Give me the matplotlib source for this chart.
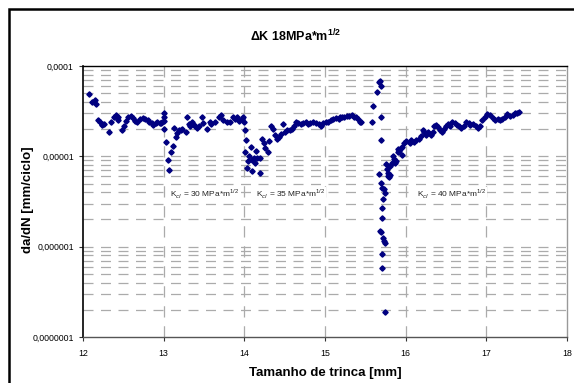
import matplotlib
matplotlib.use("Agg")
import matplotlib.pyplot as plt
import numpy as np
from matplotlib.patches import Rectangle

plt.rcParams['font.family'] = ['Liberation Sans', 'DejaVu Sans']
plt.rcParams['mathtext.fontset'] = 'custom'
plt.rcParams['mathtext.rm'] = 'Liberation Sans'
plt.rcParams['mathtext.bf'] = 'Liberation Sans:bold'

SCALE = 1e-5  # values below are da/dN in units of 1e-5 mm/ciclo

x1 = [12.08,12.11,12.15,12.16,12.19,12.21,12.23,12.24,12.26,12.32,12.35,12.38,12.41,12.43,12.44,12.48,12.51,12.53,12.56,12.59,
      12.62,12.64,12.67,12.71,12.74,12.77,12.80,12.82,12.85,12.87,12.90,12.92,12.95,12.97,12.98,13.00,13.00,13.00,13.00]
y1 = [4.9,4.0,4.24,3.8,2.54,2.4,2.3,2.22,2.3,1.84,2.43,2.75,2.86,2.7,2.54,1.94,2.15,2.46,2.72,2.82,
      2.63,2.46,2.41,2.6,2.68,2.6,2.5,2.42,2.33,2.22,2.33,2.37,2.33,2.33,2.43,3.0,2.75,2.45,2.0]

x2 = [13.03,13.05,13.07,13.09,13.11,13.13,13.15,13.17,13.19,13.21,13.23,13.28,13.29,13.31,13.33,13.35,13.37,13.39,13.41,13.44,
      13.47,13.49,13.54,13.57,13.59,13.64,13.68,13.71,13.74,13.78,13.82,13.86,13.88,13.91,13.94,13.97,13.98,14.00]
y2 = [1.43,0.9,0.71,1.13,1.31,2.06,1.64,1.82,1.97,1.94,2.0,1.88,2.72,2.3,2.18,2.37,2.22,2.15,2.06,2.18,
      2.72,2.33,2.0,2.37,2.26,2.43,2.75,2.9,2.54,2.37,2.43,2.72,2.6,2.75,2.46,2.6,2.75,2.43]

x3 = [14.01,14.02,14.01,14.03,14.05,14.06,14.08,14.09,14.10,14.12,14.13,14.14,14.16,14.19,14.20,14.22,14.24,14.26,14.29,14.31,
      14.33,14.35,14.38,14.41,14.43,14.46,14.48,14.50,14.53,14.56,14.59,14.62,14.64,14.67,14.70,14.73,14.76,14.79,14.82,14.85,
      14.89,14.92,14.95,14.98,15.01,15.04,15.07,15.10,15.14,15.17,15.19,15.21,15.24,15.27,15.30,15.33,15.36,15.38,15.41,15.44,15.45]
y3 = [1.97,1.5,1.13,0.74,0.88,1.0,1.27,0.68,0.92,0.97,0.84,1.16,0.95,0.66,0.95,1.56,1.41,1.24,1.13,1.46,
      2.15,2.0,1.74,1.56,1.64,1.78,2.28,1.88,1.97,1.94,2.0,2.15,2.37,2.33,2.3,2.33,2.37,2.3,2.33,2.37,
      2.33,2.26,2.18,2.33,2.37,2.43,2.54,2.6,2.65,2.6,2.72,2.75,2.7,2.77,2.82,2.86,2.75,2.7,2.6,2.42,2.37]

x4 = [15.58,15.59,15.65,15.67,15.68,15.69,15.69,15.69,15.67,15.70,15.71,15.73,15.74,15.72,15.71,15.71,15.68,15.69,15.72,15.73,
      15.75,15.71,15.71,15.74,15.76,15.77,15.78,15.79,15.80,15.78,15.80,15.83,15.84,15.85,15.87,15.88,15.90,15.91,15.92,15.94]
y4 = [2.42,3.6,5.1,6.7,6.9,5.95,2.75,1.5,0.64,0.51,0.45,0.43,0.39,0.34,0.27,0.21,0.15,0.145,0.126,0.116,
      0.11,0.083,0.058,0.019,0.82,0.72,0.61,0.59,0.62,0.66,0.79,0.85,1.0,0.93,0.85,0.89,1.12,1.2,1.16,1.25]

x5 = [15.95,15.96,15.98,16.01,16.05,16.07,16.10,16.13,16.16,16.19,16.21,16.23,16.25,16.28,16.31,16.34,16.35,16.38,16.40,16.43,
      16.45,16.47,16.50,16.53,16.55,16.58,16.61,16.64,16.66,16.69,16.72,16.75,16.78,16.80,16.84,16.87,16.90,16.92,16.95,16.98,
      17.01,17.04,17.08,17.11,17.14,17.17,17.20,17.23,17.26,17.29,17.33,17.35,17.38,17.40]
y5 = [1.27,1.04,1.41,1.46,1.41,1.53,1.43,1.5,1.56,1.66,1.97,1.84,1.73,1.88,1.73,1.84,2.15,2.23,2.11,1.97,
      1.84,2.0,2.15,2.3,2.18,2.37,2.33,2.23,2.15,2.06,2.18,2.37,2.33,2.23,2.3,2.18,2.06,2.15,2.54,2.72,
      2.96,2.89,2.65,2.5,2.6,2.54,2.6,2.75,2.96,2.82,2.9,3.0,3.05,3.07]

xticks = [12, 13, 14, 15, 16, 17, 18]
yticks = [1e-7, 1e-6, 1e-5, 1e-4]
ytick_labels = ["0,0000001", "0,000001", "0,00001", "0,0001"]
annotations = [(13.08, 3.76e-6, "K$_{cl}$ = 30 MPa*m$^{1/2}$"),
               (14.15, 3.76e-6, "K$_{cl}$ = 35 MPa*m$^{1/2}$"),
               (16.14, 3.76e-6, "K$_{cl}$ = 40 MPa*m$^{1/2}$")]

fig = plt.figure(figsize=(5.74, 3.83), dpi=100)
ax = fig.add_axes([83/574, 1-337/383, (567-83)/574, (337-66)/383])

ax.set_xscale('linear')
ax.set_yscale('log')
ax.set_xlim(12, 18)
ax.set_ylim(1e-7, 1e-4)

# grid
minor_vals = [m * 10.0**e for e in (-7, -6, -5) for m in range(2, 10)] + [1e-6, 1e-5]
for v in minor_vals:
    ax.axhline(v, color='#ababab', lw=0.9, ls=(0, (8, 6)), zorder=1)
for xv in xticks[1:-1]:
    ax.axvline(xv, color='#ababab', lw=0.9, ls=(0, (9, 7)), zorder=1)

xs = np.concatenate([x1, x2, x3, x4, x5])
ys = np.concatenate([y1, y2, y3, y4, y5]) * SCALE
ax.plot(xs, ys, ls='none', marker='D', ms=2.7, color='#000080', mec='#000080', zorder=3)

for xa, ya, t in annotations:
    ax.text(xa, ya, t, fontsize=6, color='#222222', va='center', ha='left', zorder=2,
            bbox=dict(facecolor='white', edgecolor='none', pad=0.5))

ax.set_xticks(xticks)
ax.set_xticklabels([str(t) for t in xticks])
ax.set_yticks(yticks)
ax.set_yticklabels(ytick_labels)
ax.yaxis.set_minor_locator(matplotlib.ticker.NullLocator())
ax.tick_params(axis='both', labelsize=6.3, direction='out', length=3, width=0.8, colors='#333333', labelcolor='black')
ax.tick_params(axis='x', pad=6)

ax.spines['left'].set_color('black'); ax.spines['left'].set_linewidth(1.2)
ax.spines['top'].set_color('black'); ax.spines['top'].set_linewidth(1.0)
ax.spines['bottom'].set_color('#555555'); ax.spines['bottom'].set_linewidth(1.0)
ax.spines['right'].set_color('#999999'); ax.spines['right'].set_linewidth(1.0)

ax.set_xlabel("Tamanho de trinca [mm]", fontsize=9.5, fontweight='bold', labelpad=6)
fig.text(28/574, 1-200/383, "da/dN [mm/ciclo]", rotation=90, fontsize=9.5, fontweight='bold',
         ha='center', va='center')
fig.text(295/574, 1-36/383, r"$\mathbf{\Delta}$K 18MPa*m$^{\mathbf{1/2}}$", fontsize=9, fontweight='bold',
         ha='center', va='center')

# outer chart frame
fig.patches.append(Rectangle((9/574, -0.1), 1.2, 1.1 - 9/383, transform=fig.transFigure,
                             fill=False, edgecolor='black', linewidth=1.8))

fig.savefig("out.png", dpi=100)
